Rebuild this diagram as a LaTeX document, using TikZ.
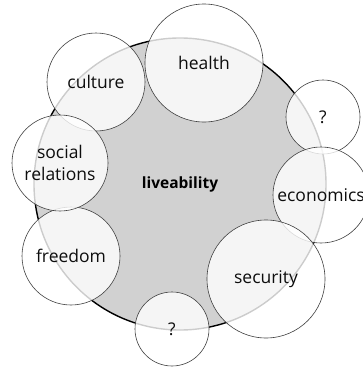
\documentclass[tikz,border=0pt]{standalone}
\usepackage{fontspec}
\setmainfont{Open Sans}
\definecolor{discgray}{gray}{0.82}

\begin{document}
\begin{tikzpicture}[x=1pt, y=-1pt, core/.style={ circle, draw=black,
    line width=1.4pt, fill=discgray, inner sep=0pt, minimum size=292pt,
    font=\bfseries\fontsize{15.5}{18}\selectfont, text=black },
    aspect/.style={ circle, draw=black!75, line width=0.6pt, fill=white,
    fill opacity=0.8, text opacity=1, inner sep=0pt, align=center,
    font=\fontsize{17.5}{22.5}\selectfont, text=black!95 } ]
  \useasboundingbox (0,0) rectangle (363,367);
  \node[core] (liveability) at (180,184) {liveability};
  \foreach \x/\y/\d/\n/\t in {96/82/98/culture/culture,
    204/63/118/health/health, 323/117/74/unknownA/?,
    321/195/96/economics/economics, 266/279/118/security/security,
    172/329/74/unknownB/?, 71/256/98/freedom/freedom,
    60/163/96/social/{social\\relations}}
  \node[aspect,minimum size=\d pt] (\n) at (\x,\y) {\t};

\end{tikzpicture}
\end{document}
